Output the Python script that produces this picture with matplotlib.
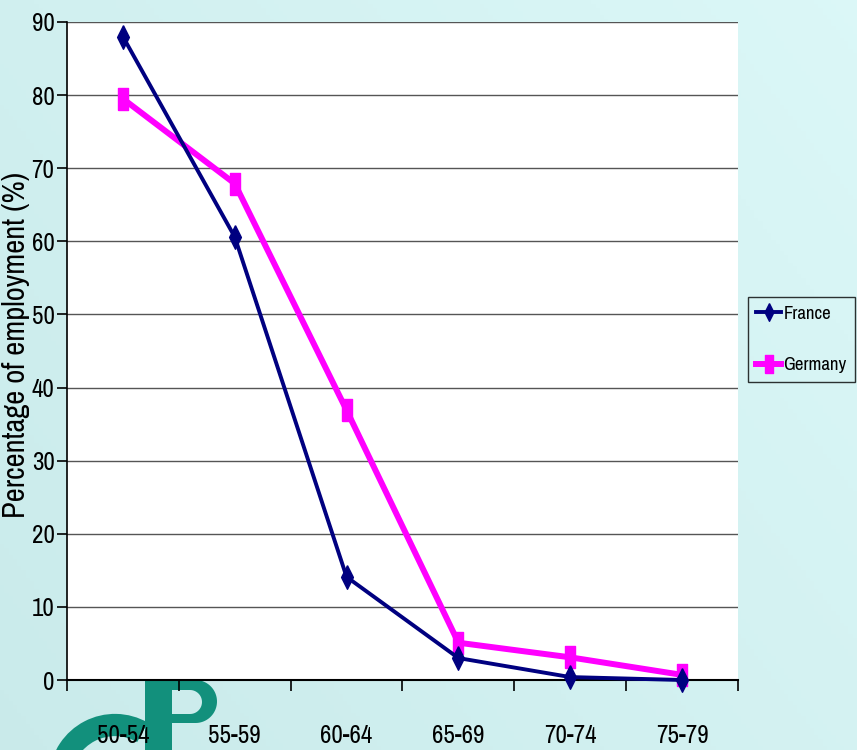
import numpy as np
import matplotlib
matplotlib.use("Agg")
import matplotlib.pyplot as plt
from matplotlib.patches import Arc, Rectangle, PathPatch
from matplotlib.path import Path

categories = ["50-54", "55-59", "60-64", "65-69", "70-74", "75-79"]
france = [88.0, 60.6, 14.1, 3.0, 0.4, 0.0]
germany = [79.5, 67.9, 36.9, 5.1, 3.1, 0.7]
y_ticks = [0, 10, 20, 30, 40, 50, 60, 70, 80, 90]
series_names = ["France", "Germany"]
ylabel = "Percentage of employment (%)"

plt.rcParams['font.family'] = ['Archivo Narrow', 'DejaVu Sans']

W, H = 857, 750
fig = plt.figure(figsize=(W / 100, H / 100), dpi=100)

# background gradient with decorative logo shapes
bg = fig.add_axes([0, 0, 1, 1], zorder=-10)
xx = np.linspace(0, 1, 200)
yy = np.linspace(0, 1, 200)
X, Y = np.meshgrid(xx, yy)
c1 = np.array([0.79, 0.92, 0.92])
c2 = np.array([0.86, 0.97, 0.97])
t = (0.6 * X + 0.4 * Y)[..., None]
img = c1 * (1 - t) + c2 * t
bg.imshow(img, extent=[0, W, 0, H], origin="lower", aspect="auto")
teal = "#12907c"
bg.add_patch(Rectangle((145, 0), 27, 70, color=teal, lw=0))
a_out = np.linspace(np.pi / 2, -np.pi / 2, 40)
outer = [(172, 70)] + [(195.5 + 21.5 * np.cos(a), 48.5 + 21.5 * np.sin(a)) for a in a_out] + [(172, 27)]
a_in = np.linspace(-np.pi / 2, np.pi / 2, 30)
inner = [(172, 60), (172, 36)] + [(190 + 12 * np.cos(a), 48 + 12 * np.sin(a)) for a in a_in]
verts = outer + [outer[0]] + inner + [inner[0]]
codes = ([Path.MOVETO] + [Path.LINETO] * (len(outer) - 1) + [Path.CLOSEPOLY]
         + [Path.MOVETO] + [Path.LINETO] * (len(inner) - 1) + [Path.CLOSEPOLY])
bg.add_patch(PathPatch(Path(verts, codes), color=teal, lw=0))
bg.add_patch(Arc((115, -30), 110, 110, theta1=60, theta2=175, lw=16, color=teal))
bg.set_xlim(0, W); bg.set_ylim(0, H)
bg.axis("off")

ax = fig.add_axes([67 / W, 70 / H, (738 - 67) / W, (680 - 22) / H])
ax.set_facecolor("white")
x = np.arange(1, len(categories) + 1)

diamond = [(0, 1), (0.5, 0), (0, -1), (-0.5, 0), (0, 1)]
rect = [(-0.45, -1), (0.45, -1), (0.45, 1), (-0.45, 1), (-0.45, -1)]
ax.plot(x, france, color="#000080", lw=2.8, marker=diamond, ms=17,
        mec="#000080", mfc="#000080", label=series_names[0], zorder=4, clip_on=False)
ax.plot(x, germany, color="#ff00ff", lw=4.3, marker=rect, ms=16.5,
        mec="#ff00ff", mfc="#ff00ff", label=series_names[1], zorder=3, clip_on=False)

ax.set_xlim(0.5, len(categories) + 0.5)
ax.set_ylim(0, 90)
ax.set_yticks(y_ticks)
ax.set_yticklabels([str(v) for v in y_ticks], fontsize=18)
ax.set_xticks(np.arange(0.5, len(categories) + 1, 1.0))
ax.set_xticklabels([])
ax.set_xticks(x, minor=True)
ax.set_xticklabels(categories, minor=True, fontsize=18)
ax.tick_params(axis="x", which="minor", length=0, pad=32)
ax.tick_params(axis="x", which="major", length=8, width=1.2, direction="out")
ax.tick_params(axis="y", length=7, width=1.2, direction="out", pad=2)
ax.yaxis.grid(True, color="#555555", lw=1.0)
ax.set_axisbelow(True)
for s in ["top", "right"]:
    ax.spines[s].set_visible(False)
ax.spines["left"].set_linewidth(1.2)
ax.spines["bottom"].set_linewidth(1.5)

leg = fig.legend(loc="upper left", bbox_to_anchor=(748 / W, 1 - 297 / H),
                 frameon=True, fancybox=False, fontsize=13.5, handlelength=1.3,
                 handletextpad=0.15, borderpad=0.45, borderaxespad=0,
                 labelspacing=1.9, markerscale=0.75)
leg.get_frame().set_edgecolor("black")
leg.get_frame().set_facecolor("none")
leg.get_frame().set_linewidth(1.0)

fig.text(16 / W, 1 - 345 / H, ylabel, rotation=90, ha="center", va="center",
         fontsize=22, color="black")

fig.savefig("out.png", dpi=100)
